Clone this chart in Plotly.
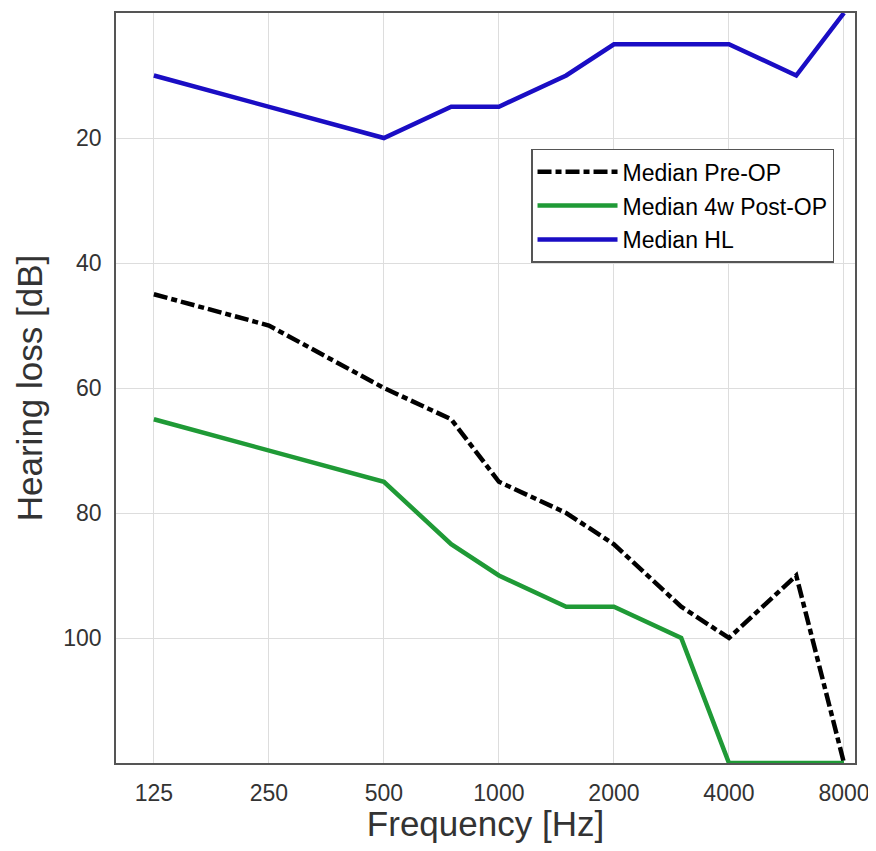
import numpy as np
import plotly.graph_objects as go

freqs = [125, 250, 500, 750, 1000, 1500, 2000, 3000, 4000, 6000, 8000]
pre_op = [45, 50, 60, 65, 75, 80, 85, 95, 100, 90, 120]
post_op = [65, 70, 75, 85, 90, 95, 95, 100, 120, 120, 120]
median_hl = [10, 15, 20, 15, 15, 10, 5, 5, 5, 10, 0]
tick_freqs = [125, 250, 500, 1000, 2000, 4000, 8000]
y_ticks = [20, 40, 60, 80, 100]

fig = go.Figure()
fig.add_trace(go.Scatter(x=freqs, y=pre_op, mode='lines', name='Median Pre-OP', legendgroup='a',
                         line=dict(color='black', width=4.5, dash='14px,4px,6px,4px')))
fig.add_trace(go.Scatter(x=freqs, y=post_op, mode='lines', name='Median 4w Post-OP', legendgroup='b',
                         line=dict(color='#1f9a36', width=4.5)))
fig.add_trace(go.Scatter(x=freqs, y=median_hl, mode='lines', name='Median HL', legendgroup='c',
                         line=dict(color='#1a0dc4', width=4.5)))

fig.update_layout(
    width=862, height=835,
    margin=dict(l=108, r=15, t=5, b=80),
    plot_bgcolor='white', paper_bgcolor='white',
    font=dict(family='Liberation Sans, Arial, sans-serif', color='#333333'),
    showlegend=True,
    legend=dict(x=0.5616, y=0.819, xanchor='left', yanchor='top',
                bordercolor='#555555', borderwidth=1.5, bgcolor='white',
                font=dict(size=23, color='black'), tracegroupgap=1,
                itemwidth=80),
)
fig.update_xaxes(type='log', range=[np.log10(99.5), np.log10(8550)],
                 tickvals=tick_freqs, ticktext=[str(f) for f in tick_freqs],
                 tickfont=dict(size=23), showgrid=True, gridcolor='#dddddd',
                 showline=True, linecolor='#555555', linewidth=1.5, mirror=True,
                 ticks='', zeroline=False, ticklabelstandoff=9,
                 ticklabeloverflow='allow', automargin=False,
                 title=dict(text='Frequency [Hz]', font=dict(size=35), standoff=10))
fig.update_yaxes(range=[120, 0], tickvals=y_ticks, tickfont=dict(size=23),
                 showgrid=True, gridcolor='#dddddd',
                 showline=True, linecolor='#555555', linewidth=1.5, mirror=True,
                 ticks='', zeroline=False, ticklabelstandoff=8,
                 title=dict(text='Hearing loss [dB]', font=dict(size=35), standoff=10))

fig.write_html("out.html")
